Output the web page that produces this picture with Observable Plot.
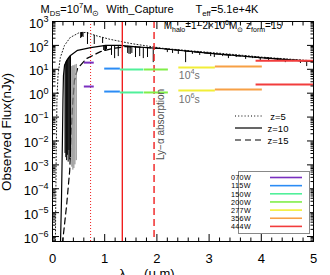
<!DOCTYPE html>
<html>
<head>
<meta charset="utf-8">
<script src="https://cdn.jsdelivr.net/npm/d3@7"></script>
<script src="https://cdn.jsdelivr.net/npm/@observablehq/plot@0.6"></script>
<style>
html,body{margin:0;padding:0;background:#fff;}
#chart svg{display:block;}
</style>
</head>
<body>
<div id="chart"></div>
<script>
// ---- spectra: observed wavelength (μm) and flux (nJy) ----
const z5Lam   = [0.055,0.07,0.085,0.105,0.15,0.23,0.34,0.5,0.65,0.82,1.1,1.5,2.1,2.7,3.3,4.0,5.0];
const z5Flux  = [5e-7,1.5e-3,0.5,5.5,31,100,215,330,350,260,180,120,76,58,45,32.5,22.5];
const z10Lam  = [0.153,0.172,0.19,0.2,0.21,0.23,0.27,0.345,0.48,0.73,1.02,1.3,1.6,2.07,3.03,3.98,5.0];
const z10Flux = [5e-7,3.2e-5,0.0105,0.49,5.5,14.4,23,38,62,81,100,100,86,74,46,31,21];
const z15Lam  = [0.19,0.27,0.33,0.36,0.39,0.42,0.48,0.65,0.92,1.15,1.4,1.6,2.07,3.03,3.98,5.0];
const z15Flux = [5e-7,2e-5,5.9e-4,0.028,0.49,3.4,10.7,28,55,74,89,86,74,46,31,21];

// ---- absorption features (wavelength, continuum, line bottom, tone) ----
const spikeLam = [0.24,0.255,0.27,0.285,0.30,0.315,0.33,0.345,
                  0.37,0.39,0.41,0.43,0.455,
                  0.54,0.555,0.57,0.585,0.67,0.80,0.96,
                  0.98,1.0,1.015,1.035,1.13,1.19,1.26,1.34,1.44,1.465,1.49,1.52,1.59,1.67,1.74,1.82,1.93,
                  2.2,2.3,2.41,2.55,2.68,2.82,3.03,3.10,3.26,3.37,3.52,3.70,3.83,3.98,4.14,4.31,4.46,4.60,4.75,4.87];
const spikeTop = [16,20,23,26,29,32,35,38,
                  13,14,14,15,16,
                  340,345,348,350,345,265,210,
                  99,99,99,99,99,99,99,97,92,91,90,89,86,83,80,77,74,
                  68,64,60,57,54,50,46,45,42,40,38,36,34,31,29,28,26,25,24,23];
const spikeBot = [3e-3,2e-3,1.5e-3,2.5e-3,1.3e-3,4e-3,1.6e-3,2e-3,
                  8e-4,6e-4,7e-4,1e-3,1.5e-3,
                  194,214,236,214,109,109,120,
                  61,56,61,67,38,28,34,50,46,42,42,46,31,34,28,31,19,
                  50,46,42,19,42,38,34,31,34,28,31,26,28,23,21,23,19,21,17.5,13];
const spikeTone = [..."kkkkkkkkgggggkkkkkkkkkkkkkkkkkkkkkkkkkkkkkkkkkkkkkkkkkkkk"];

// ---- NIRCam filters: range (μm) and sensitivity at 1e4 s / 1e6 s (nJy) ----
const filterNames  = ["070W","115W","150W","200W","277W","356W","444W"];
const filterLo     = [0.61,1.0,1.3,1.76,2.42,3.12,3.9];
const filterHi     = [0.80,1.30,1.75,2.22,3.12,4.02,5.0];
const filterFlux4  = [19,10.7,9.8,9.8,12,13,23];
const filterFlux6  = [1.9,1.17,1.07,1.07,1.29,1.41,2.3];
const filterColors = ["#7a30c0","#2b8cf5","#50f09a","#80ee48","#f2ee38","#f7a045","#f23c3c"];

// ---- Lyman-alpha at z = 5, 10, 15 ----
const lyaLam = [0.7296,1.3376,1.9456];
const zLabels = ["z=5","z=10","z=15"];

// ---- annotations ----
const noteText = ["10^{4}s","10^{6}s"];
const noteLam  = [2.42,2.42];
const noteFlux = [5.5,0.545];
const lyaText = "Ly−α absorption";
const lyaTextFlux = 0.049;
const haloText = "M_{halo}=1−2×10^{6}M_{⊙} z_{form}=15";
const haloLam = 2.13, haloFlux = 640;

// ---- ticks ----
const xMajor = [0,1,2,3,4,5];
const yMajor = [1e-6,1e-5,1e-4,1e-3,1e-2,1e-1,1,10,100,1000];
const yDomain = [6.2e-7,1000];
const xMinor = d3.range(0,5.001,0.2).filter(v => Math.abs(v-Math.round(v))>1e-6);
const yMinor = [];
for (let k=-7;k<=2;k++) for (let m=2;m<=9;m++){const v=m*Math.pow(10,k); if(v>=yDomain[0]&&v<=yDomain[1]) yMinor.push(v);}

// ---- tables ----
const mk = (L,F) => L.map((l,i)=>({lam:l,flux:F[i]}));
const z5 = mk(z5Lam,z5Flux), z10 = mk(z10Lam,z10Flux), z15 = mk(z15Lam,z15Flux);
const spikes = spikeLam.map((l,i)=>({lam:l,top:spikeTop[i],bot:spikeBot[i],c:spikeTone[i]==="g"?"#8a8a8a":"#000"}));
const filters = filterNames.map((n,i)=>({name:n,lo:filterLo[i],hi:filterHi[i],f4:filterFlux4[i],f6:filterFlux6[i],color:filterColors[i]}));
const notes = noteText.map((t,i)=>({t,lam:noteLam[i],flux:noteFlux[i]}));

const expFmt = d => { const e = Math.round(Math.log10(d)); return "10^{" + (e<0 ? "−"+(-e) : e) + "}"; };
const blank = () => "";
const RED = "#f01e1e";
const FONT = "'Liberation Sans', Arial, Helvetica, sans-serif";

const chart = Plot.plot({
  width: 330, height: 275,
  marginLeft: 52, marginRight: 17, marginTop: 21, marginBottom: 34,
  style: {fontFamily: FONT, background: "white", color: "black", overflow: "visible"},
  x: {domain: [0,5], label: null},
  y: {type: "log", domain: yDomain, label: null},
  color: {type: "identity"},
  marks: [
    Plot.line(z5,  {x:"lam", y:"flux", stroke:"#222", strokeWidth:1, strokeDasharray:"1,2.2", clip:true}),
    Plot.line(z10, {x:"lam", y:"flux", stroke:"#000", strokeWidth:1.2, clip:true}),
    Plot.line(z15, {x:"lam", y:"flux", stroke:"#000", strokeWidth:1.2, strokeDasharray:"6,4", clip:true}),
    Plot.ruleX(spikes, {x:"lam", y1:"top", y2:"bot", stroke:"c", strokeWidth:1, clip:true}),
    Plot.ruleX([lyaLam[0]], {stroke:RED, strokeWidth:1, strokeDasharray:"1,2"}),
    Plot.ruleX([lyaLam[1]], {stroke:RED, strokeWidth:1.4}),
    Plot.ruleX([lyaLam[2]], {stroke:RED, strokeWidth:1.4, strokeDasharray:"7,4"}),
    Plot.ruleY(filters, {y:"f4", x1:"lo", x2:"hi", stroke:"color", strokeWidth:2, clip:true}),
    Plot.ruleY(filters, {y:"f6", x1:"lo", x2:"hi", stroke:"color", strokeWidth:2, clip:true}),
    Plot.text(notes, {x:"lam", y:"flux", text:"t", textAnchor:"start", fill:"#707070", fontSize:10.5}),
    Plot.text([lyaText], {x:()=>lyaLam[2], y:()=>lyaTextFlux, text:d=>d, rotate:-90, dx:7, fill:"#505050", fontSize:10}),
    Plot.text([haloText], {x:()=>haloLam, y:()=>haloFlux, text:d=>d, textAnchor:"start", fill:"#000", fontSize:10}),
    // axes: labels
    Plot.axisY(yMajor, {anchor:"left", tickSize:0, tickPadding:4, dy:2, fontSize:13, tickFormat:expFmt, label:null}),
    Plot.axisX(xMajor, {anchor:"bottom", tickSize:0, tickPadding:12, fontSize:13, tickFormat:d=>String(d), label:null}),
    // inward ticks
    Plot.axisY(yMajor, {anchor:"left", tickSize:-7, tickFormat:blank, label:null}),
    Plot.axisY(yMinor, {anchor:"left", tickSize:-3.5, tickFormat:blank, label:null}),
    Plot.axisY(yMajor, {anchor:"right", tickSize:-7, tickFormat:blank, label:null}),
    Plot.axisY(yMinor, {anchor:"right", tickSize:-3.5, tickFormat:blank, label:null}),
    Plot.axisX(xMajor, {anchor:"bottom", tickSize:-7, tickFormat:blank, label:null}),
    Plot.axisX(xMinor, {anchor:"bottom", tickSize:-3.5, tickFormat:blank, label:null}),
    Plot.axisX(xMajor, {anchor:"top", tickSize:-7, tickFormat:blank, label:null}),
    Plot.axisX(xMinor, {anchor:"top", tickSize:-3.5, tickFormat:blank, label:null}),
    Plot.frame({stroke:"#000", strokeWidth:1})
  ]
});
document.getElementById("chart").appendChild(chart);

const svg = d3.select(chart);
const g = svg.append("g").attr("font-family", FONT).attr("fill", "#000");
// title
g.append("text").attr("x",70).attr("y",13).attr("font-size",11).text("M_{DS}=10^{7}M_{⊙}");
g.append("text").attr("x",140).attr("y",13).attr("font-size",11).text("With_Capture");
g.append("text").attr("x",227).attr("y",13).attr("font-size",11).text("T_{eff}=5.1e+4K");
// axis titles
g.append("text").attr("transform","translate(11,132) rotate(-90)").attr("text-anchor","middle").attr("font-size",13.5).text("Observed Flux(nJy)");
g.append("text").attr("x",147).attr("y",278).attr("font-size",13).text("λ_{obs} (μ m)");
// redshift legend
const zDash = ["1,2.2", null, "6,4"];
zLabels.forEach((t,i) => {
  const y = 116 + i*12;
  const ln = g.append("line").attr("x1",235).attr("x2",262).attr("y1",y).attr("y2",y).attr("stroke","#000").attr("stroke-width",1.2);
  if (zDash[i]) ln.attr("stroke-dasharray", zDash[i]);
  g.append("text").attr("x",278).attr("y",y+3.5).attr("font-size",9.5).text(t);
});
// filter legend
g.append("rect").attr("x",238.5).attr("y",171.5).attr("width",71).attr("height",62).attr("fill","#fff").attr("stroke","#888");
filterNames.forEach((n,i) => {
  const y = 177.5 + i*8.15;
  g.append("text").attr("x",241).attr("y",y+2.8).attr("font-size",7.2).attr("letter-spacing",0.35).text(n);
  g.append("line").attr("x1",270).attr("x2",302).attr("y1",y).attr("y2",y).attr("stroke",filterColors[i]).attr("stroke-width",1.6);
});

// render ^{..} and _{..} as super/subscripts
function rich(el){
  const s = el.textContent;
  if (!/[\^_]\{/.test(s)) return;
  const fs = parseFloat(getComputedStyle(el).fontSize) || 10;
  const parts = []; const re = /([\^_])\{([^}]*)\}/g; let last = 0, m;
  while ((m = re.exec(s))) {
    if (m.index > last) parts.push({t:s.slice(last,m.index), k:0});
    parts.push({t:m[2], k:m[1]==="^" ? -1 : 1});
    last = re.lastIndex;
  }
  if (last < s.length) parts.push({t:s.slice(last), k:0});
  while (el.firstChild) el.removeChild(el.firstChild);
  let cur = 0;
  for (const p of parts) {
    const target = p.k===0 ? 0 : (p.k<0 ? -0.42*fs : 0.28*fs);
    const ts = document.createElementNS("http://www.w3.org/2000/svg","tspan");
    ts.setAttribute("dy", (target-cur).toFixed(2));
    if (p.k) ts.setAttribute("font-size", (fs*0.7).toFixed(1));
    ts.textContent = p.t;
    el.appendChild(ts);
    cur = target;
  }
}
chart.querySelectorAll("text").forEach(rich);
</script>
</body>
</html>
